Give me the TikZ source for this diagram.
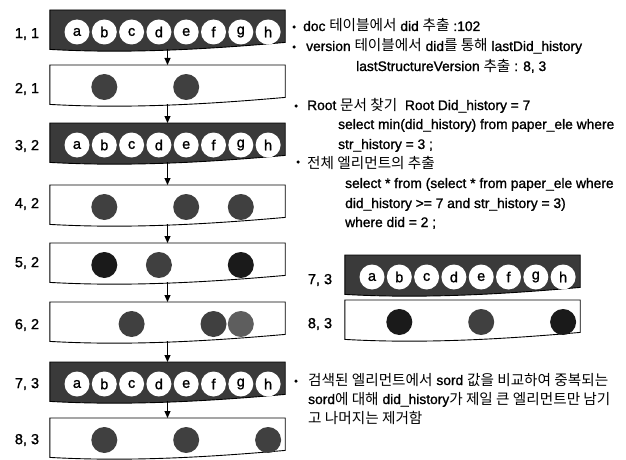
\documentclass[tikz,border=0pt]{standalone}
\usepackage{fontspec}
\setmainfont{Liberation Sans}[FakeBold=1.2]
\newfontfamily\krfont{Noto Sans CJK KR}[Scale=1.06]
\newcommand\kr[1]{{\krfont #1}}
\usetikzlibrary{arrows.meta}
\definecolor{bandgray}{HTML}{3A3A3A}
\definecolor{dotgray}{HTML}{404040}
\definecolor{dotdark}{HTML}{1A1A1A}
\definecolor{dotlight}{HTML}{5E5E5E}
% #1 name, #2 left x, #3 top y, #4 fill
\newcommand\mkband[4]{%
  \node[bandbox] (#1) at ({#2+117.5},#3) {};
  \path[bandline,fill=#4] (#1.north west) -- (#1.north east)
     -- ([yshift=7pt]#1.south east) .. controls +(-90,8) and +(70,4) .. (#1.south west) -- cycle;
}
% letters: #1 name, #2 left x, #3 top y
\newcommand\mkletters[3]{%
  \foreach \l [count=\k] in {a,b,c,d,e,f,g,h}
    \node[letter] (#1\l) at ({#2+27+27.3*(\k-1)},{#3+22}) {\l};
}
% dot: #1 name, #2 left x, #3 top y, #4 column index (1..8), #5 colour
\newcommand\mkdot[5]{%
  \node[dot,fill=#5] (#1) at ({#2+27+27.3*(#4-1)},{#3+22}) {};
}
\begin{document}
\begin{tikzpicture}[x=1pt,y=-1pt,
  bandbox/.style={minimum width=235pt, minimum height=39pt, inner sep=0pt, draw=none, anchor=north},
  bandline/.style={draw=black, line width=0.9pt},
  letter/.style={circle, fill=white, minimum size=25pt, inner sep=0pt, font=\fontsize{14.5}{14.5}\selectfont},
  dot/.style={circle, minimum size=26pt, inner sep=0pt},
  lbl/.style={inner sep=0pt, font=\fontsize{14.5}{14.5}\selectfont},
  txt/.style={anchor=base west, inner sep=0pt, font=\fontsize{13.8}{13.8}\selectfont},
  bullet/.style={circle, fill=black, minimum size=3.5pt, inner sep=0pt},
  flow/.style={-{Triangle[length=7pt,width=6pt]}, line width=0.9pt}]
\useasboundingbox (0,0) rectangle (626,460);
\fill[white] (0,0) rectangle (626,460);

% left column
\mkband{B1}{50}{10}{bandgray}   \mkletters{B1}{50}{10}
\mkband{B2}{50}{65}{white}
\mkdot{B2b}{50}{65}{2}{dotgray} \mkdot{B2e}{50}{65}{5}{dotgray}
\mkband{B3}{50}{123}{bandgray}  \mkletters{B3}{50}{123}
\mkband{B4}{50}{185}{white}
\mkdot{B4b}{50}{185}{2}{dotgray} \mkdot{B4e}{50}{185}{5}{dotgray} \mkdot{B4g}{50}{185}{7}{dotgray}
\mkband{B5}{50}{243}{white}
\mkdot{B5b}{50}{243}{2}{dotdark} \mkdot{B5d}{50}{243}{4}{dotgray} \mkdot{B5g}{50}{243}{7}{dotdark}
\mkband{B6}{50}{302}{white}
\mkdot{B6c}{50}{302}{3}{dotgray} \mkdot{B6f}{50}{302}{6}{dotgray} \mkdot{B6g}{50}{302}{7}{dotlight}
\mkband{B7}{50}{362}{bandgray}  \mkletters{B7}{50}{362}
\mkband{B8}{50}{418}{white}
\mkdot{B8b}{50}{418}{2}{dotgray} \mkdot{B8e}{50}{418}{5}{dotgray} \mkdot{B8h}{50}{418}{8}{dotgray}

\foreach \a/\b in {B1/B2,B2/B3,B3/B4,B4/B5,B5/B6,B6/B7,B7/B8}
  \draw[flow] (\a.south) -- (\b.north);

\node[lbl] (L1) at (27,34) {1, 1};
\node[lbl] (L2) at (27,89) {2, 1};
\node[lbl] (L3) at (27,146) {3, 2};
\node[lbl] (L4) at (27,204) {4, 2};
\node[lbl] (L5) at (27,263) {5, 2};
\node[lbl] (L6) at (27,325) {6, 2};
\node[lbl] (L7) at (27,384) {7, 3};
\node[lbl] (L8) at (27,440) {8, 3};

% right mini bands
\mkband{M7}{345}{255}{bandgray} \mkletters{M7}{345}{255}
\mkband{M8}{345}{300}{white}
\mkdot{M8b}{345}{300}{2}{dotdark} \mkdot{M8e}{345}{300}{5}{dotgray} \mkdot{M8h}{345}{300}{8}{dotdark}
\node[lbl] (R7) at (320,280) {7, 3};
\node[lbl] (R8) at (320,324) {8, 3};

% texts
\node[bullet] (u1) at (294,27) {};
\node[txt] (t1) at (303,31) {doc \kr{테이블에서} did \kr{추출} :102};
\node[bullet] (u2) at (294,47) {};
\node[txt] (t2) at (306,51) {version \kr{테이블에서} did\kr{를 통해} lastDid\_history};
\node[txt] (t3) at (356,71) {lastStructureVersion \kr{추출} : 8, 3};
\node[bullet] (u3) at (296,106) {};
\node[txt] (t4) at (307,110) {Root \kr{문서 찾기}\ \ Root Did\_history = 7};
\node[txt] (t5) at (338,129) {select min(did\_history) from paper\_ele where};
\node[txt] (t6) at (338,149) {str\_history = 3 ;};
\node[bullet] (u4) at (298,162) {};
\node[txt] (t7) at (307,168) {\kr{전체 엘리먼트의 추출}};
\node[txt] (t8) at (345,188) {select * from (select * from paper\_ele where};
\node[txt] (t9) at (345,208) {did\_history >= 7 and str\_history = 3)};
\node[txt] (t10) at (345,227) {where did = 2 ;};
\node[bullet] (u5) at (296,381) {};
\node[txt] (t11) at (308,385) {\kr{검색된 엘리먼트에서} sord \kr{값을 비교하여 중복되는}};
\node[txt] (t12) at (308,404) {sord\kr{에 대해} did\_history\kr{가 제일 큰 엘리먼트만 남기}};
\node[txt] (t13) at (308,423) {\kr{고 나머지는 제거함}};
\end{tikzpicture}
\end{document}
